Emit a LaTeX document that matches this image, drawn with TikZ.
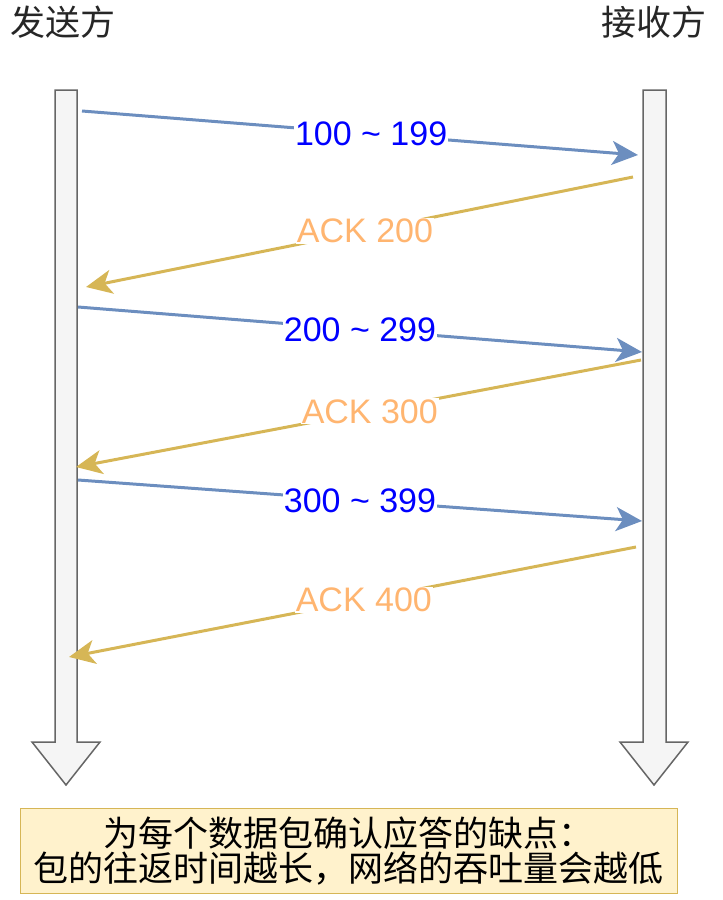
\documentclass[tikz,border=0pt]{standalone}
\usepackage{fontspec}
\setmainfont{Liberation Sans}
\newfontfamily\cjk{Noto Sans CJK SC}
\usepackage{tikz}
\usetikzlibrary{arrows.meta, positioning, calc}

\definecolor{seqblue}{HTML}{6C8EBF}
\definecolor{ackgold}{HTML}{D6B656}
\definecolor{acklabel}{HTML}{FFB570}
\definecolor{notefill}{HTML}{FFF2CC}
\definecolor{barfill}{HTML}{F5F5F5}
\definecolor{bardraw}{HTML}{666666}

\begin{document}
\begin{tikzpicture}[
      x=1pt, y=-1pt,
      lifeline/.style={draw=bardraw, fill=barfill, line width=1.5pt},
      datamsg/.style={draw=seqblue, line width=3pt, -{Stealth[length=26pt, width=24pt, inset=7pt]}},
      ackmsg/.style={draw=ackgold, line width=3pt, -{Stealth[length=26pt, width=24pt, inset=7pt]}},
      datalabel/.style={fill=white, text=blue, inner sep=1pt, font=\fontsize{34}{40}\selectfont},
      acklab/.style={fill=white, text=acklabel, inner sep=1pt, font=\fontsize{34}{40}\selectfont},
      party/.style={text=black!85, inner sep=0pt, font=\cjk\fontsize{35}{40}\selectfont}
    ]
      \useasboundingbox (0,0) rectangle (723,900);

      % the two lifelines
      \draw[lifeline] (55,90) -- (77,90) -- (77,742) -- (100,742) -- (66,785)
        -- (32,742) -- (55,742) -- cycle;
      \draw[lifeline] (643,90) -- (666,90) -- (666,742) -- (688,742) -- (654,785)
        -- (620,742) -- (643,742) -- cycle;

      \node[party] (sender) at (63,22) {发送方};
      \node[party] (receiver) at (654,22) {接收方};

      % end points on the lifelines
      \coordinate (s1) at (82,111);   \coordinate (r1) at (638,155);
      \coordinate (r2) at (633,177);  \coordinate (s2) at (86,287);
      \coordinate (s3) at (78,307);   \coordinate (r3) at (642,352);
      \coordinate (r4) at (641,360);  \coordinate (s4) at (76,467);
      \coordinate (s5) at (78,480);   \coordinate (r5) at (642,521);
      \coordinate (r6) at (636,547);  \coordinate (s6) at (69,657);

      \draw[datamsg] (s1) -- node[datalabel, pos=0.52] (d1) {100 \char`\~{} 199} (r1);
      \draw[ackmsg] (r2) -- node[acklab, pos=0.49] (a1) {ACK 200} (s2);
      \draw[datamsg] (s3) -- node[datalabel, pos=0.5] (d2) {200 \char`\~{} 299} (r3);
      \draw[ackmsg] (r4) -- node[acklab, pos=0.48] (a2) {ACK 300} (s4);
      \draw[datamsg] (s5) -- node[datalabel, pos=0.5] (d3) {300 \char`\~{} 399} (r5);
      \draw[ackmsg] (r6) -- node[acklab, pos=0.48] (a3) {ACK 400} (s6);

      \node[draw=ackgold, fill=notefill, line width=1pt, minimum width=657pt,
        minimum height=85pt, align=center, inner sep=0pt,
        font=\cjk\fontsize{35}{35}\selectfont] (note) at (348.5,851)
        {为每个数据包确认应答的缺点：\\包的往返时间越长，网络的吞吐量会越低};
    \end{tikzpicture}
\end{document}
